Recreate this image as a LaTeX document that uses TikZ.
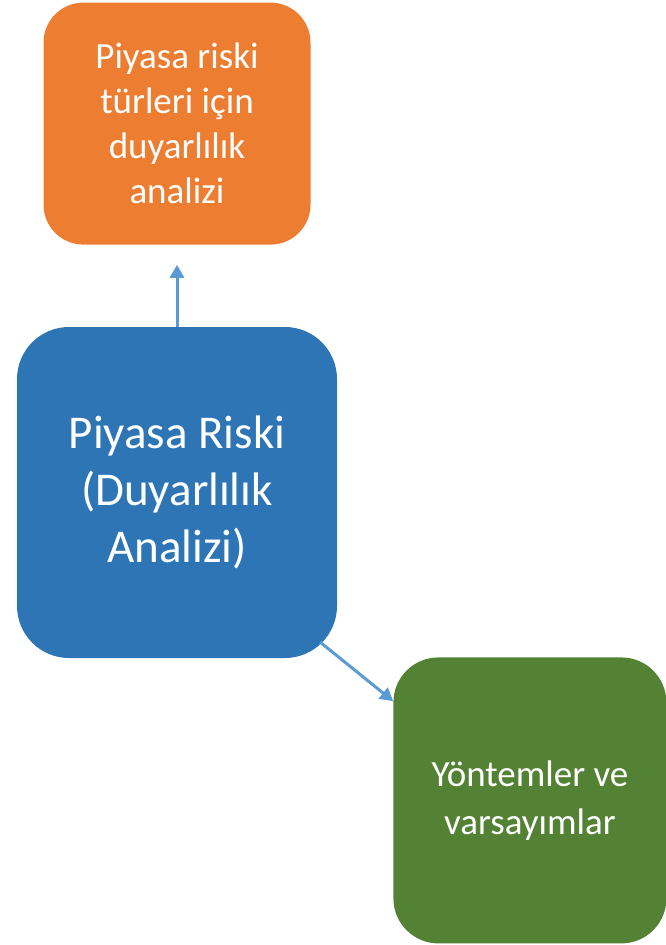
\documentclass[tikz,border=0pt]{standalone}
\usepackage{fontspec}
\setmainfont{Carlito}
\usepackage{xcolor}
\usetikzlibrary{arrows.meta, positioning}

\definecolor{riskorange}{HTML}{ED7D31}
\definecolor{riskblue}{HTML}{2E75B6}
\definecolor{riskgreen}{HTML}{548235}
\definecolor{linkblue}{HTML}{5B9BD5}

\begin{document}
\begin{tikzpicture}[x=1pt, y=1pt,
    box/.style={rectangle, draw=none, text=white, align=center, inner sep=0pt},
    arrow/.style={-{Triangle[width=14pt,length=13pt]}, draw=linkblue, line width=3pt}]

\useasboundingbox (0,0) rectangle (666,-945);

\node[box, fill=riskblue, minimum width=320pt, minimum height=331pt, rounded corners=52pt,
      font=\fontsize{47}{57}\selectfont] (piyasa) at (177,-492.5)
      {Piyasa Riski\\(Duyarlılık\\Analizi)};
\node[box, fill=riskorange, minimum width=267pt, minimum height=242pt, rounded corners=40pt,
      font=\fontsize{37}{45}\selectfont, above=82pt of piyasa] (turler)
      {Piyasa riski\\türleri için\\duyarlılık\\analizi};
\node[box, fill=riskgreen, minimum width=273pt, minimum height=286pt, rounded corners=45pt,
      font=\fontsize{37}{48}\selectfont, below right=-1pt and 56pt of piyasa] (yontem)
      {Yöntemler ve\\varsayımlar};

\draw[arrow, shorten >=20pt] (piyasa.north) -- (turler.south);
\draw[arrow] ([xshift=-17pt,yshift=16pt]piyasa.south east) -- ([yshift=-44pt]yontem.north west);
\end{tikzpicture}
\end{document}
